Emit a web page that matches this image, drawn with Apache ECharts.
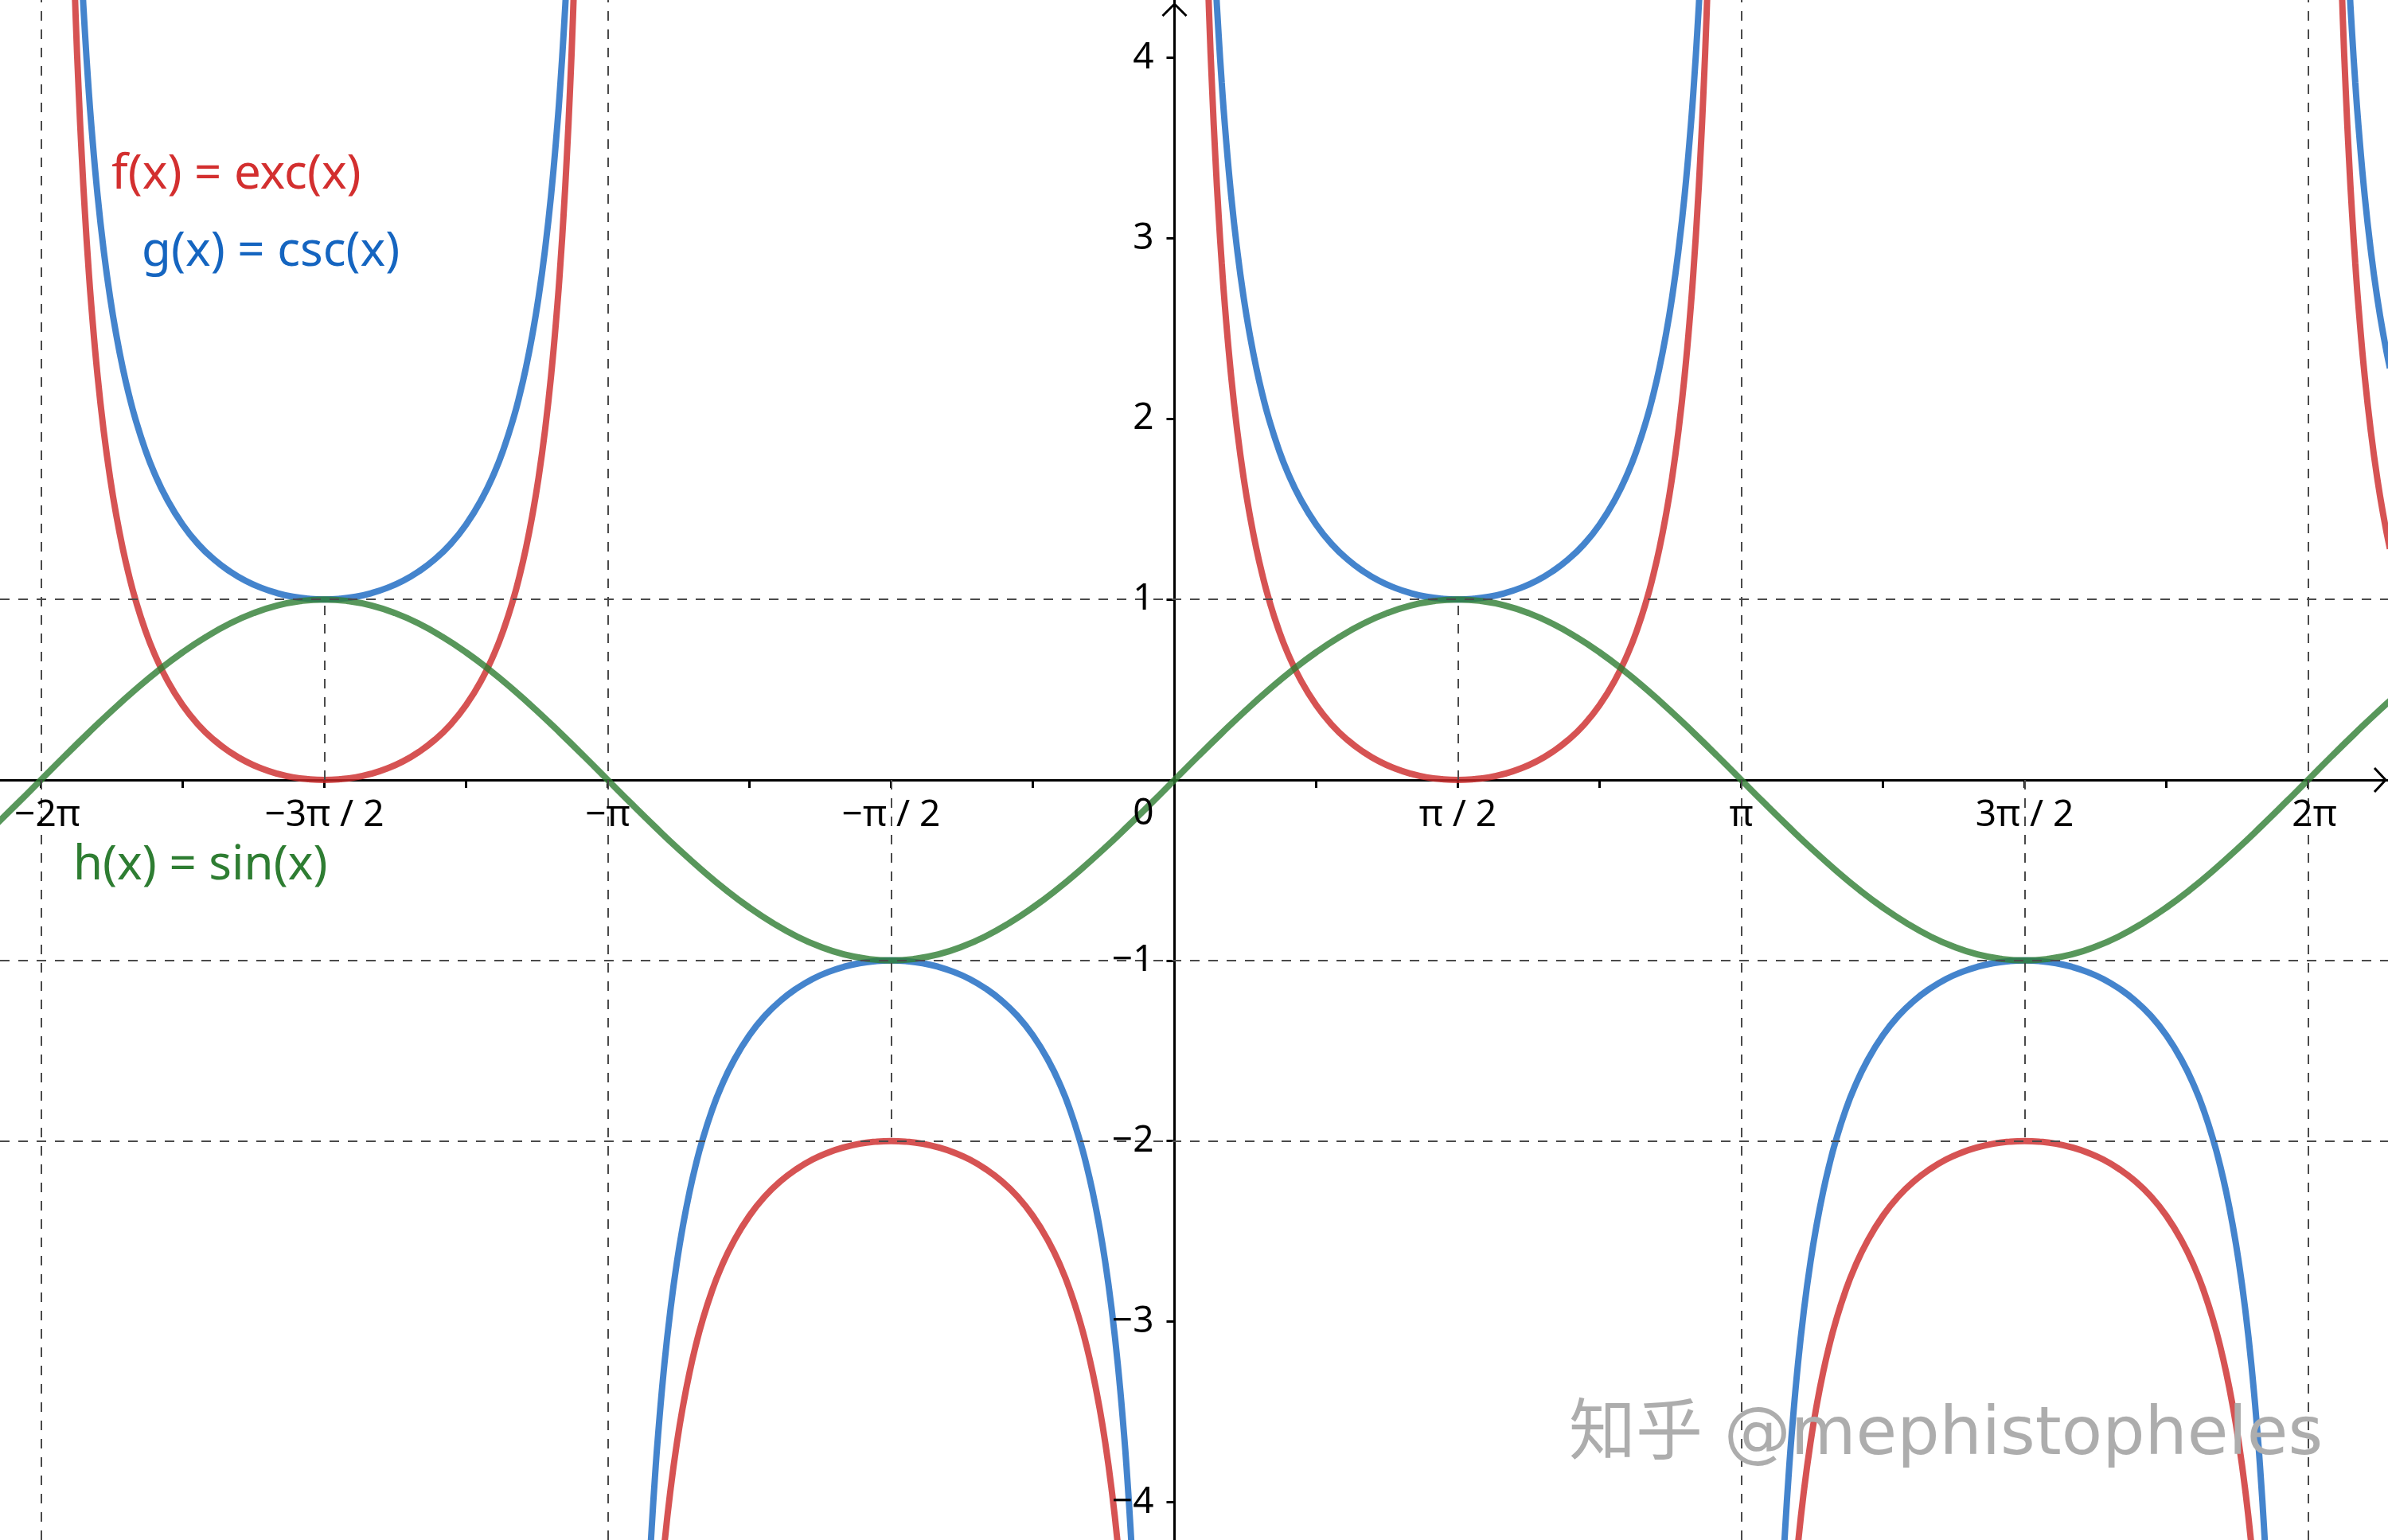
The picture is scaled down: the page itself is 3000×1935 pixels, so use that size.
<!DOCTYPE html>
<html><head><meta charset="utf-8">
<script src="https://cdn.jsdelivr.net/npm/echarts@6/dist/echarts.min.js"></script>
<style>html,body{margin:0;padding:0;background:#fff;}#c{width:3000px;height:1935px;}</style>
</head><body><div id="c"></div>
<script>
// ---- axis ticks / labels (x in degrees) ----
const xTickValues = [-360,-315,-270,-225,-180,-135,-90,-45,45,90,135,180,225,270,315,360];
const xLabelValues = [-360,-270,-180,-90,90,180,270,360];
const xLabelTexts = ['−2π','−3π / 2','−π','−π / 2','π / 2','π','3π / 2','2π'];
const yTickValues = [-4,-3,-2,-1,1,2,3,4];
const yLabelTexts = ['−4','−3','−2','−1','1','2','3','4'];

// ---- guide lines ----
const fullVerticals = [-360,-180,180,360];
const horizontals = [1,-1,-2];
const partialVerticals = [[-270,0,1],[90,0,1],[-90,0,-2],[270,0,-2]];

// ---- h(x) = sin(x) ----
const sinX = [-375,-367.5,-360,-352.5,-345,-337.5,-330,-322.5,-315,-307.5,-300,-292.5,-285,-277.5,-270,-262.5,-255,-247.5,-240,-232.5,-225,-217.5,-210,-202.5,-195,-187.5,-180,-172.5,-165,-157.5,-150,-142.5,-135,-127.5,-120,-112.5,-105,-97.5,-90,-82.5,-75,-67.5,-60,-52.5,-45,-37.5,-30,-22.5,-15,-7.5,0,7.5,15,22.5,30,37.5,45,52.5,60,67.5,75,82.5,90,97.5,105,112.5,120,127.5,135,142.5,150,157.5,165,172.5,180,187.5,195,202.5,210,217.5,225,232.5,240,247.5,255,262.5,270,277.5,285,292.5,300,307.5,315,322.5,330,337.5,345,352.5,360,367.5,375,382.5,390];
const sinY = [-0.259,-0.131,
0,0.131,0.259,0.383,0.5,0.609,0.707,0.793,0.866,0.924,0.966,0.991,1,0.991,0.966,0.924,0.866,0.793,0.707,0.609,0.5,0.383,0.259,0.131,0,-0.131,-0.259,-0.383,-0.5,-0.609,-0.707,-0.793,-0.866,-0.924,-0.966,-0.991,-1,-0.991,-0.966,-0.924,-0.866,-0.793,-0.707,-0.609,-0.5,-0.383,-0.259,-0.131,
0,0.131,0.259,0.383,0.5,0.609,0.707,0.793,0.866,0.924,0.966,0.991,1,0.991,0.966,0.924,0.866,0.793,0.707,0.609,0.5,0.383,0.259,0.131,0,-0.131,-0.259,-0.383,-0.5,-0.609,-0.707,-0.793,-0.866,-0.924,-0.966,-0.991,-1,-0.991,-0.966,-0.924,-0.866,-0.793,-0.707,-0.609,-0.5,-0.383,-0.259,-0.131,
0,0.131,0.259,0.383,0.5];

// ---- g(x) = csc(x), f(x) = exc(x) ; null = break at asymptote ----
const cscX = [
-350,-349,-348,-347,-346,-345,-344,-342,-340,-338,-336,-334,-332,-330,-327,-324,-320,-315,-310,-305,-300,-295,-290,-285,-280,-275,-270,-265,-260,-255,-250,-245,-240,-235,-230,-225,-220,-216,-213,-210,-208,-206,-204,-202,-200,-198,-196,-195,-194,-193,-192,-191,-190,
-180,
-170,-169,-168,-167,-166,-165,-164,-162,-160,-158,-156,-154,-152,-150,-147,-144,-140,-135,-130,-125,-120,-115,-110,-105,-100,-95,-90,-85,-80,-75,-70,-65,-60,-55,-50,-45,-40,-36,-33,-30,-28,-26,-24,-22,-20,-18,-16,-15,-14,-13,-12,-11,-10,
0,
10,11,12,13,14,15,16,18,20,22,24,26,28,30,33,36,40,45,50,55,60,65,70,75,80,85,90,95,100,105,110,115,120,125,130,135,140,144,147,150,152,154,156,158,160,162,164,165,166,167,168,169,170,
180,
190,191,192,193,194,195,196,198,200,202,204,206,208,210,213,216,220,225,230,235,240,245,250,255,260,265,270,275,280,285,290,295,300,305,310,315,320,324,327,330,332,334,336,338,340,342,344,345,346,347,348,349,350,
360,
370,371,372,373,374,375,376,378,380,382,384,386];
const cscY = [
5.759,5.241,4.810,4.445,4.134,3.864,3.628,3.236,2.924,2.669,2.459,2.281,2.130,2.000,1.836,1.701,1.556,1.414,1.305,1.221,1.155,1.103,1.064,1.035,1.015,1.004,1.000,1.004,1.015,1.035,1.064,1.103,1.155,1.221,1.305,1.414,1.556,1.701,1.836,2.000,2.130,2.281,2.459,2.669,2.924,3.236,3.628,3.864,4.134,4.445,4.810,5.241,5.759,
null,
-5.759,-5.241,-4.810,-4.445,-4.134,-3.864,-3.628,-3.236,-2.924,-2.669,-2.459,-2.281,-2.130,-2.000,-1.836,-1.701,-1.556,-1.414,-1.305,-1.221,-1.155,-1.103,-1.064,-1.035,-1.015,-1.004,-1.000,-1.004,-1.015,-1.035,-1.064,-1.103,-1.155,-1.221,-1.305,-1.414,-1.556,-1.701,-1.836,-2.000,-2.130,-2.281,-2.459,-2.669,-2.924,-3.236,-3.628,-3.864,-4.134,-4.445,-4.810,-5.241,-5.759,
null,
5.759,5.241,4.810,4.445,4.134,3.864,3.628,3.236,2.924,2.669,2.459,2.281,2.130,2.000,1.836,1.701,1.556,1.414,1.305,1.221,1.155,1.103,1.064,1.035,1.015,1.004,1.000,1.004,1.015,1.035,1.064,1.103,1.155,1.221,1.305,1.414,1.556,1.701,1.836,2.000,2.130,2.281,2.459,2.669,2.924,3.236,3.628,3.864,4.134,4.445,4.810,5.241,5.759,
null,
-5.759,-5.241,-4.810,-4.445,-4.134,-3.864,-3.628,-3.236,-2.924,-2.669,-2.459,-2.281,-2.130,-2.000,-1.836,-1.701,-1.556,-1.414,-1.305,-1.221,-1.155,-1.103,-1.064,-1.035,-1.015,-1.004,-1.000,-1.004,-1.015,-1.035,-1.064,-1.103,-1.155,-1.221,-1.305,-1.414,-1.556,-1.701,-1.836,-2.000,-2.130,-2.281,-2.459,-2.669,-2.924,-3.236,-3.628,-3.864,-4.134,-4.445,-4.810,-5.241,-5.759,
null,
5.759,5.241,4.810,4.445,4.134,3.864,3.628,3.236,2.924,2.669,2.459,2.281];
const excY = [
4.759,4.241,3.810,3.445,3.134,2.864,2.628,2.236,1.924,1.669,1.459,1.281,1.130,1.000,0.836,0.701,0.556,0.414,0.305,0.221,0.155,0.103,0.064,0.035,0.015,0.004,0.000,0.004,0.015,0.035,0.064,0.103,0.155,0.221,0.305,0.414,0.556,0.701,0.836,1.000,1.130,1.281,1.459,1.669,1.924,2.236,2.628,2.864,3.134,3.445,3.810,4.241,4.759,
null,
-6.759,-6.241,-5.810,-5.445,-5.134,-4.864,-4.628,-4.236,-3.924,-3.669,-3.459,-3.281,-3.130,-3.000,-2.836,-2.701,-2.556,-2.414,-2.305,-2.221,-2.155,-2.103,-2.064,-2.035,-2.015,-2.004,-2.000,-2.004,-2.015,-2.035,-2.064,-2.103,-2.155,-2.221,-2.305,-2.414,-2.556,-2.701,-2.836,-3.000,-3.130,-3.281,-3.459,-3.669,-3.924,-4.236,-4.628,-4.864,-5.134,-5.445,-5.810,-6.241,-6.759,
null,
4.759,4.241,3.810,3.445,3.134,2.864,2.628,2.236,1.924,1.669,1.459,1.281,1.130,1.000,0.836,0.701,0.556,0.414,0.305,0.221,0.155,0.103,0.064,0.035,0.015,0.004,0.000,0.004,0.015,0.035,0.064,0.103,0.155,0.221,0.305,0.414,0.556,0.701,0.836,1.000,1.130,1.281,1.459,1.669,1.924,2.236,2.628,2.864,3.134,3.445,3.810,4.241,4.759,
null,
-6.759,-6.241,-5.810,-5.445,-5.134,-4.864,-4.628,-4.236,-3.924,-3.669,-3.459,-3.281,-3.130,-3.000,-2.836,-2.701,-2.556,-2.414,-2.305,-2.221,-2.155,-2.103,-2.064,-2.035,-2.015,-2.004,-2.000,-2.004,-2.015,-2.035,-2.064,-2.103,-2.155,-2.221,-2.305,-2.414,-2.556,-2.701,-2.836,-3.000,-3.130,-3.281,-3.459,-3.669,-3.924,-4.236,-4.628,-4.864,-5.134,-5.445,-5.810,-6.241,-6.759,
null,
4.759,4.241,3.810,3.445,3.134,2.864,2.628,2.236,1.924,1.669,1.459,1.281];

const FONT = '"Noto Sans", "Open Sans", sans-serif';
const pairs = (xs, ys) => xs.map((x, i) => [x, ys[i] === null ? '-' : ys[i]]);

const chart = echarts.init(document.getElementById('c'), null, {renderer: 'canvas'});
const dash = {type: [12, 11], color: '#4a4a4a', width: 2};
const guideData = []
  .concat(fullVerticals.map(v => ({xAxis: v})))
  .concat(horizontals.map(v => ({yAxis: v})))
  .concat(partialVerticals.map(p => [{coord: [p[0], p[1]]}, {coord: [p[0], p[2]]}]));

chart.setOption({
  animation: false,
  backgroundColor: '#ffffff',
  grid: {left: 0, right: 0, top: 0, bottom: 0, containLabel: false, outerBoundsMode: 'none'},
  xAxis: {
    type: 'value', min: -373.0, max: 385.4,
    axisLine: {onZero: true, lineStyle: {color: '#000', width: 3}},
    axisTick: {show: true, customValues: xTickValues, length: 10, lineStyle: {color: '#000', width: 3}},
    axisLabel: {show: false},
    splitLine: {show: false}
  },
  yAxis: {
    type: 'value', min: -4.2098, max: 4.3200,
    axisLine: {onZero: true, lineStyle: {color: '#000', width: 3}},
    axisTick: {show: true, customValues: yTickValues, length: 10, lineStyle: {color: '#000', width: 3}},
    axisLabel: {show: false},
    splitLine: {show: false}
  },
  series: [
    {name: 'f', type: 'line', z: 2, data: pairs(cscX, excY), showSymbol: false, smooth: 0.5,
     connectNulls: false, lineStyle: {color: 'rgba(204,40,40,0.8)', width: 8}},
    {name: 'g', type: 'line', z: 3, data: pairs(cscX, cscY), showSymbol: false, smooth: 0.5,
     connectNulls: false, lineStyle: {color: 'rgba(21,101,192,0.8)', width: 8}},
    {name: 'h', type: 'line', z: 4, data: pairs(sinX, sinY), showSymbol: false, smooth: 0.5,
     lineStyle: {color: 'rgba(46,125,50,0.8)', width: 8}},
    {name: 'guides', type: 'line', z: 10, data: [],
     markLine: {silent: true, symbol: ['none', 'none'], label: {show: false}, lineStyle: dash,
       emphasis: {disabled: true}, animation: false, data: guideData}}
  ]
});

const o = chart.convertToPixel({gridIndex: 0}, [0, 0]);
const W = 3000;
const labelStyle = (text, align) => ({text, fontSize: 46, fontFamily: FONT, fill: '#000', align, verticalAlign: 'middle'});
const g = [
  {type: 'polyline', z: 20, shape: {points: [[W - 17, o[1] - 15], [W - 3, o[1]], [W - 17, o[1] + 15]]},
   style: {stroke: '#000', lineWidth: 3, fill: null}},
  {type: 'polyline', z: 20, shape: {points: [[o[0] - 15, 20], [o[0], 5], [o[0] + 15, 20]]},
   style: {stroke: '#000', lineWidth: 3, fill: null}},
  {type: 'text', z: 20, x: o[0] - 26, y: o[1] + 43, style: labelStyle('0', 'right')}
];
xLabelValues.forEach((v, i) => {
  const p = chart.convertToPixel({gridIndex: 0}, [v, 0]);
  g.push({type: 'text', z: 20, x: p[0] + (v === -360 || v === 360 ? 8 : 0), y: p[1] + 45, style: labelStyle(xLabelTexts[i], 'center')});
});
yTickValues.forEach((v, i) => {
  const p = chart.convertToPixel({gridIndex: 0}, [0, v]);
  g.push({type: 'text', z: 20, x: p[0] - 26, y: p[1], style: labelStyle(yLabelTexts[i], 'right')});
});
g.push(
  {type: 'text', z: 20, x: 140, y: 220,
   style: {text: 'f(x) = exc(x)', fontSize: 60, fontFamily: FONT, fill: '#d32f2f', align: 'left', verticalAlign: 'middle'}},
  {type: 'text', z: 20, x: 178, y: 317,
   style: {text: 'g(x) = csc(x)', fontSize: 60, fontFamily: FONT, fill: '#1565c0', align: 'left', verticalAlign: 'middle'}},
  {type: 'text', z: 20, x: 92, y: 1088,
   style: {text: 'h(x) = sin(x)', fontSize: 60, fontFamily: FONT, fill: '#2e7d32', align: 'left', verticalAlign: 'middle'}},
  {type: 'text', z: 30, x: 1971, y: 1805,
   style: {text: '知乎 @mephistopheles', fontSize: 84, fontFamily: '"DejaVu Sans", "Noto Sans CJK SC", sans-serif',
     fill: '#adadad', align: 'left', verticalAlign: 'middle',
     textShadowColor: 'rgba(255,255,255,0.9)', textShadowOffsetX: -3, textShadowOffsetY: -3, textShadowBlur: 0}}
);
chart.setOption({graphic: g});
</script></body></html>
